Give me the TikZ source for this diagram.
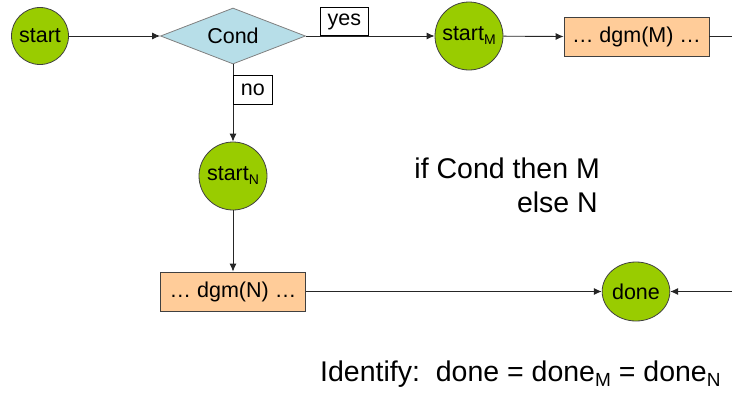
\documentclass[tikz,border=0pt]{standalone}
\usepackage{fontspec}
\setmainfont{Liberation Sans}
\usetikzlibrary{arrows.meta,shapes.geometric}
\definecolor{nodegreen}{HTML}{99CC00}
\definecolor{condblue}{HTML}{B7DEE8}
\definecolor{boxpeach}{HTML}{FFCC99}
\definecolor{edgegray}{HTML}{404040}
\newcommand{\lowsub}[1]{\raisebox{-0.35ex}{\fontsize{14}{16}\selectfont #1}}
\tikzset{
  circ/.style={circle,draw=edgegray,line width=0.8pt,fill=nodegreen,inner sep=0pt,
    font=\fontsize{21.5}{25}\selectfont},
  ell/.style={ellipse,draw=edgegray,line width=0.8pt,fill=nodegreen,inner sep=0pt,
    font=\fontsize{21.5}{25}\selectfont},
  decide/.style={diamond,aspect=2.55,draw=gray,line width=0.8pt,fill=condblue,inner sep=0pt,
    minimum width=145pt,minimum height=56pt,font=\fontsize{21.5}{25}\selectfont},
  dgmbox/.style={rectangle,draw=edgegray,line width=0.8pt,fill=boxpeach,inner sep=0pt,
    minimum width=145pt,minimum height=39pt,font=\fontsize{21.5}{25}\selectfont},
  lbl/.style={rectangle,draw=black,line width=0.7pt,fill=white,inner sep=0pt,
    font=\fontsize{21.5}{25}\selectfont},
  conn/.style={draw=black!85,line width=0.9pt},
  arr/.style={conn,-{Latex[length=8pt,width=7pt]}},
  bigtext/.style={font=\fontsize{28.5}{34}\selectfont,inner sep=0pt}
}
\begin{document}
\begin{tikzpicture}[x=1pt,y=-1pt]
\useasboundingbox (0,0) rectangle (732,397);
\node[circ,minimum size=57pt] (start) at (40,36) {start};
\node[decide] (cond) at (233,36) {Cond};
\node[circ,minimum size=68pt] (startM) at (469,36) {start\lowsub{M}};
\node[dgmbox] (dgmM) at (636.5,36.5) {… dgm(M) …};
\node[circ,minimum size=68pt] (startN) at (233,176) {start\lowsub{N}};
\node[dgmbox] (dgmN) at (233,291.5) {… dgm(N) …};
\node[ell,minimum width=67pt,minimum height=59pt] (done) at (636,291.5) {done};
\coordinate (outM) at (732,36.5);
\coordinate (inDone) at (732,291.5);

\draw[arr] (start) -- (cond.west);
\draw[arr] (cond.east) -- (startM);
\draw[arr] (startM) -- (dgmM.west);
\draw[conn] (dgmM.east) -- (outM);
\draw[arr] (cond.south) -- (startN);
\draw[arr] (startN) -- (dgmN.north);
\draw[arr] (dgmN.east) -- (done);
\draw[arr] (inDone) -- (done);

\node[lbl,anchor=south west,minimum width=48pt,minimum height=28pt] (yes) at (320,36) {yes};
\node[lbl,anchor=north west,minimum width=39pt,minimum height=29pt] (no) at (233,75) {no};

\node[bigtext,anchor=base east] (ifline) at (600,178) {if Cond then M};
\node[bigtext,anchor=base east] (elseline) at (598,212) {else N};
\node[bigtext,anchor=base west] (identify) at (320,381) {Identify:\ \ done = done\lowsub{\fontsize{19}{20}\selectfont M} = done\lowsub{\fontsize{19}{20}\selectfont N}};
\end{tikzpicture}
\end{document}
